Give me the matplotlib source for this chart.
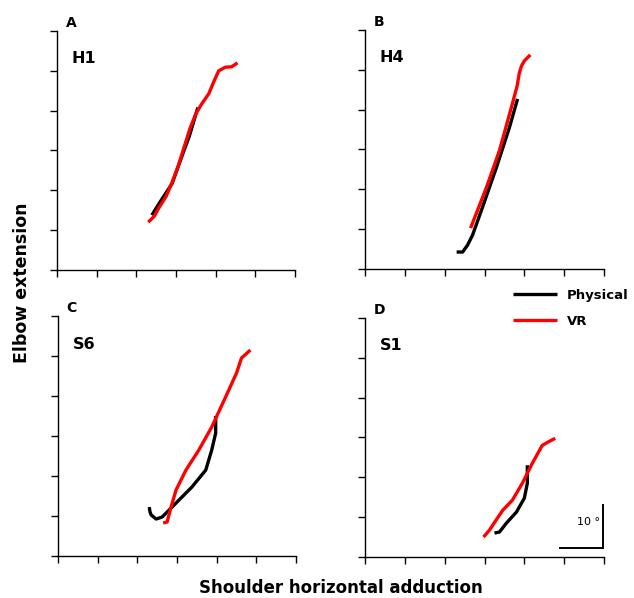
import matplotlib.pyplot as plt

# joint angle traces (degrees, 10 per tick)
a_phys_x = [23.9, 25.75, 29, 32, 33.25, 35.5]
a_phys_y = [13.75, 16.75, 21.7, 30, 33.3, 40.8]
a_vr_x = [23, 24.5, 25.75, 27.5, 29, 30.5, 32, 33.5, 35, 36.5, 38.25, 39.5, 40.75, 42.4, 44, 45.5]
a_vr_y = [12, 13.5, 15.75, 18.5, 22, 26, 30.75, 35.5, 39.25, 41.75, 44.25, 47.25, 50, 50.9, 51, 52]

b_phys_x = [23, 24.5, 25.75, 27, 29.5, 33, 36.25, 38.3]
b_phys_y = [4.25, 4.25, 6, 8.5, 15.5, 25.5, 35.5, 42.7]
b_vr_x = [26.5, 30.5, 33.75, 37, 38.2, 38.75, 39.3, 40, 41.5]
b_vr_y = [10.25, 20.5, 29.75, 41.5, 46, 49.25, 51, 52.25, 53.75]

c_phys_x = [23, 23.2, 23.5, 24.75, 26.25, 28, 30.5, 33.75, 37.25, 38.75, 39.75, 39.75]
c_phys_y = [12.25, 11, 10.25, 9.25, 9.75, 11.5, 14, 17.25, 21.5, 26.5, 30.75, 35]
c_vr_x = [26.5, 27.5, 28.5, 29.75, 32.25, 35.5, 38.75, 42.25, 45, 46.25, 48.5]
c_vr_y = [8.25, 8.5, 12.25, 16.5, 21.5, 26.5, 32.25, 39.75, 45.75, 49.5, 51.5]

d_phys_x = [32.5, 33.75, 35.5, 38, 40, 40.75, 40.75]
d_phys_y = [6, 6.25, 8.5, 11.25, 14.75, 18.5, 23]
d_vr_x = [29.75, 31.25, 32.9, 34.6, 37, 39.5, 42, 44.5, 46.25, 47.75]
d_vr_y = [5, 6.75, 9.25, 11.75, 14.25, 18.5, 23.5, 28, 29, 29.75]

letters = ['A', 'B', 'C', 'D']
subjects = ['H1', 'H4', 'S6', 'S1']
ticks = [0, 10, 20, 30, 40, 50, 60]

panels = [
    (a_phys_x, a_phys_y, a_vr_x, a_vr_y),
    (b_phys_x, b_phys_y, b_vr_x, b_vr_y),
    (c_phys_x, c_phys_y, c_vr_x, c_vr_y),
    (d_phys_x, d_phys_y, d_vr_x, d_vr_y),
]

fig = plt.figure(figsize=(6.34, 5.98), dpi=100)
boxes = [
    [0.090, 0.5485, 0.3754, 0.3997],
    [0.5757, 0.5502, 0.3770, 0.3997],
    [0.0915, 0.0702, 0.3754, 0.4013],
    [0.5757, 0.0686, 0.3770, 0.4000],
]

axes = []
for box, (px, py, vx, vy), let, subj in zip(boxes, panels, letters, subjects):
    ax = fig.add_axes(box)
    ax.plot(px, py, color='black', lw=2.4, solid_capstyle='butt',
            solid_joinstyle='round', label='Physical')
    ax.plot(vx, vy, color='#ff0000', lw=2.4, solid_capstyle='butt',
            solid_joinstyle='round', label='VR')
    ax.set_xlim(0, 60)
    ax.set_ylim(0, 60)
    ax.set_xticks(ticks)
    ax.set_yticks(ticks)
    ax.set_xticklabels([])
    ax.set_yticklabels([])
    ax.tick_params(direction='out', length=5, width=1)
    for s in ['top', 'right']:
        ax.spines[s].set_visible(False)
    for s in ['left', 'bottom']:
        ax.spines[s].set_linewidth(1)
    ax.text(2.2, 60.3, let, fontsize=10, fontweight='bold', ha='left', va='bottom',
            clip_on=False)
    ax.text(3.7, 53, subj, fontsize=11.5, fontweight='bold', ha='left', va='center')
    axes.append(ax)

# legend sits above panel D
axd = axes[3]
axd.legend(loc='upper left', bbox_to_anchor=(513 / 634, 1 - 289 / 598),
           bbox_transform=fig.transFigure, frameon=False, borderpad=0,
           borderaxespad=0, prop={'weight': 'bold', 'size': 9.5},
           handlelength=3.3, handletextpad=0.8, labelspacing=0.95)

# scale bar, 10 degrees
axd.plot([59.75, 59.75], [2.25, 13], color='black', lw=1.4, clip_on=False)
axd.plot([49, 59.75], [2.25, 2.25], color='black', lw=1.4, clip_on=False)
axd.text(56, 8.75, '10 °', fontsize=8, ha='center', va='center')

fig.text(0.035, 0.528, 'Elbow extension', rotation=90, fontsize=12.5,
         fontweight='bold', ha='center', va='center')
fig.text(0.538, 0.016, 'Shoulder horizontal adduction', fontsize=12,
         fontweight='bold', ha='center', va='center')

fig.savefig('out.png', dpi=100)
